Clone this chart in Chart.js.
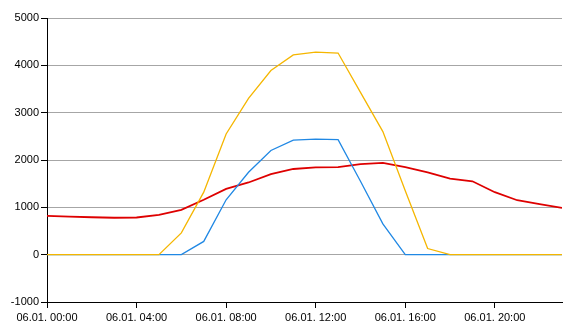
<!DOCTYPE html>
<html>
<head>
<meta charset="utf-8">
<script src="https://cdn.jsdelivr.net/npm/chart.js@4/dist/chart.umd.min.js"></script>
<style>
html,body{margin:0;padding:0;background:#fff;}
#wrap{position:relative;width:567px;height:336px;}
</style>
</head>
<body>
<div id="wrap"><canvas id="c" width="567" height="336"></canvas></div>
<script>
const hours = [0,1,2,3,4,5,6,7,8,9,10,11,12,13,14,15,16,17,18,19,20,21,22,23];
const datePrefix = "06.01. ";
const yellowSeries = [0,0,0,0,0,0,460,1320,2550,3300,3890,4220,4280,4260,3430,2600,1350,130,0,0,0,0,0,0];
const blueSeries   = [0,0,0,0,0,0,0,280,1160,1740,2200,2420,2440,2430,1550,650,0,0,0,0,0,0,0,0];
const redSeries    = [820,805,790,780,785,840,945,1160,1390,1525,1700,1810,1846,1850,1915,1938,1850,1740,1607,1550,1320,1150,1068,987];
const yTicks = [-1000,0,1000,2000,3000,4000,5000];

const pts = arr => hours.map((h,i)=>({x:h,y:arr[i]}));
const FONT = {family:"'Liberation Sans', Arial, sans-serif", size:11};

new Chart(document.getElementById('c'), {
  type:'line',
  data:{
    datasets:[
      {label:'Yellow', data:pts(yellowSeries), borderColor:'rgb(245,182,0)', borderWidth:1.3, pointRadius:0, tension:0, fill:false},
      {label:'Blue', data:pts(blueSeries), borderColor:'rgb(32,136,228)', borderWidth:1.3, pointRadius:0, tension:0, fill:false},
      {label:'Red', data:pts(redSeries), borderColor:'rgb(222,0,0)', borderWidth:1.8, pointRadius:0, tension:0, fill:false}
    ]
  },
  options:{
    responsive:false,
    animation:false,
    layout:{padding:{top:18,right:5,left:0,bottom:0}},
    plugins:{legend:{display:false}, tooltip:{enabled:false}},
    scales:{
      x:{
        type:'linear',
        min:hours[0], max:hours[hours.length-1],
        afterBuildTicks: s => { s.ticks = s.ticks.filter(t => t.value % 4 === 0); },
        afterFit: s => { s.height = 34; },
        border:{display:true,color:'#000',width:1},
        grid:{drawOnChartArea:false, drawTicks:true, tickLength:6, tickColor:'#000'},
        ticks:{stepSize:4, autoSkip:false, maxRotation:0, padding:3, color:'#000', font:FONT,
          callback: v => datePrefix + String(v).padStart(2,'0') + ':00'}
      },
      y:{
        min:yTicks[0], max:yTicks[yTicks.length-1],
        afterFit: s => { s.width = 47; },
        afterBuildTicks: s => { s.ticks = yTicks.map(v=>({value:v})); },
        border:{display:true,color:'#000',width:1},
        grid:{color: c => (c.tick && c.tick.value === yTicks[0]) ? 'rgba(0,0,0,0)' : '#a6a6a6', tickLength:6, tickColor:'#000', lineWidth:1},
        ticks:{padding:2, color:'#000', font:FONT, callback: v => String(v)}
      }
    }
  }
});
</script>
</body>
</html>
